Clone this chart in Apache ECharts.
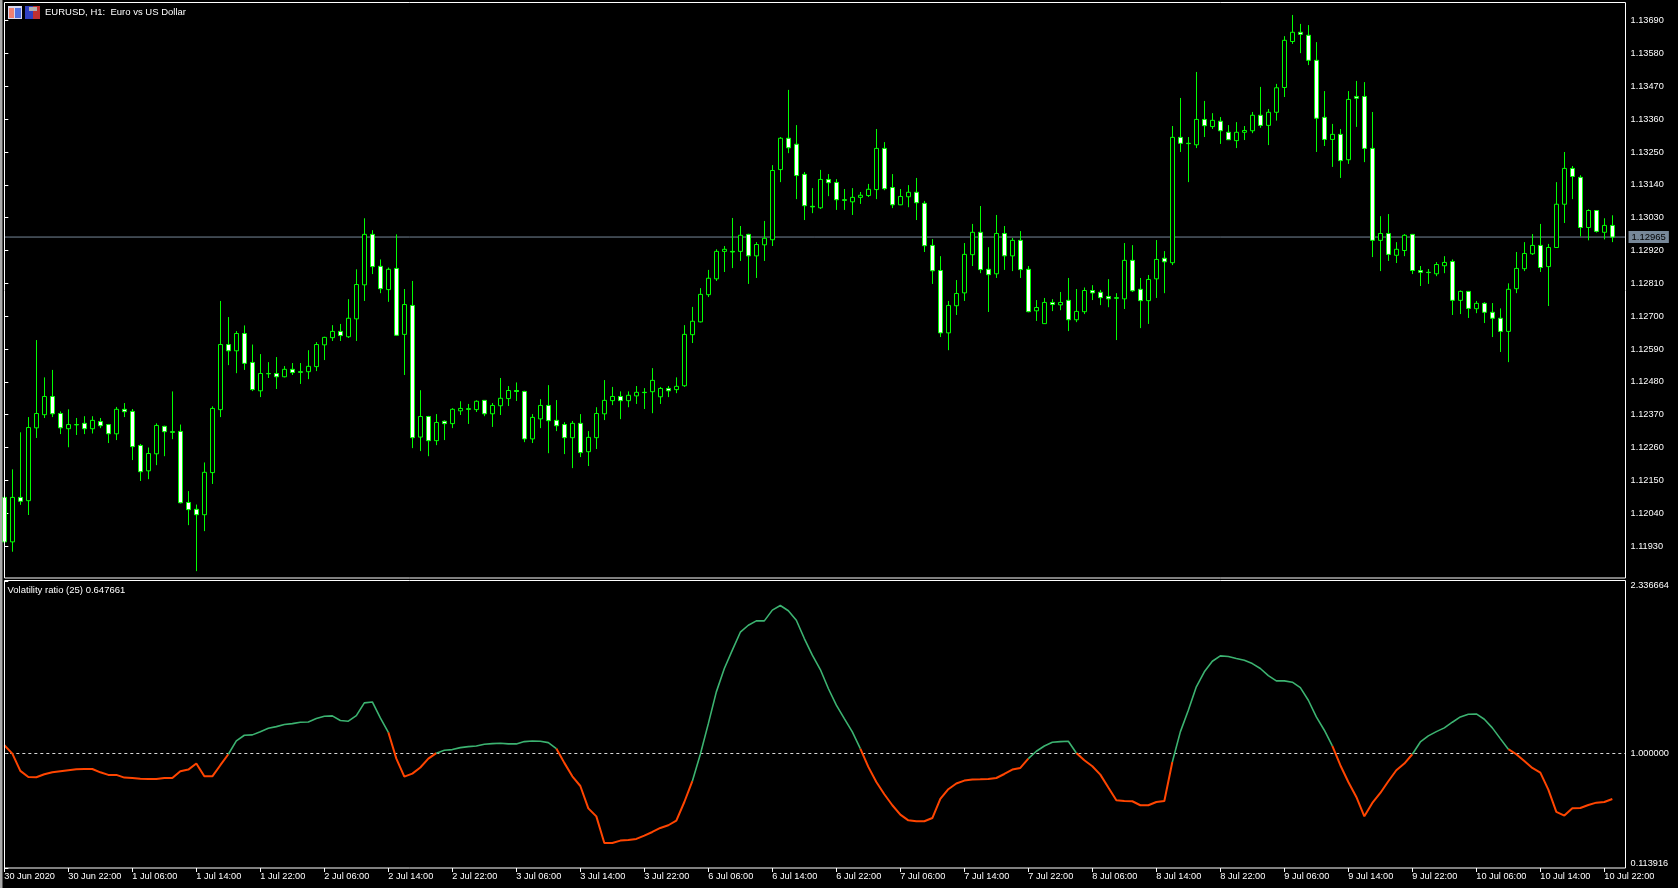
<!DOCTYPE html>
<html><head><meta charset="utf-8">
<style>html,body{margin:0;padding:0;background:#000;overflow:hidden}#c{width:1678px;height:888px}</style>
<script src="https://cdn.jsdelivr.net/npm/echarts@6/dist/echarts.min.js"></script>
</head><body><div id="c"></div>
<script>
// prices in 1e-5 units (112093 = 1.12093)
const opens = [
112093,111944,112093,112082,112326,112370,112431,112374,112323,112337,
112341,112323,112347,112337,112306,112388,112381,112267,112182,112239,
112331,112313,112314,112076,112053,112035,112176,112387,112605,112584,
112642,112545,112450,112508,112508,112497,112522,112514,112514,112531,
112604,112628,112649,112631,112691,112805,112974,112867,112789,112860,
112639,112736,112295,112364,112283,112348,112340,112383,112390,112387,
112418,112373,112400,112424,112451,112448,112289,112356,112401,112351,
112337,112293,112341,112246,112293,112373,112417,112431,112417,112433,
112445,112447,112430,112458,112454,112467,112638,112681,112772,112825,
112917,112917,112917,112974,112902,112939,112956,113191,113296,113276,
113175,113068,113063,113158,113148,113090,113083,113098,113104,113124,
113262,113131,113073,113100,113115,113078,112937,112853,112644,112735,
112778,112906,112981,112857,112842,112977,112902,112954,112857,112718,
112675,112746,112738,112753,112688,112715,112786,112780,112766,112762,
112758,112887,112790,112752,112825,112894,112879,113299,113279,113274,
113359,113335,113353,113316,113288,113316,113321,113373,113339,113383,
113466,113620,113651,113641,113557,113366,113292,113309,113224,113436,
113436,113262,112954,112977,112904,112920,112974,112853,112847,112842,
112869,112883,112753,112783,112725,112743,112713,112693,112649,112792,
112859,112909,112937,112866,112930,113075,113195,113165,112997,113054,
112981,113004];
const closes = [
111944,112093,112080,112327,112374,112431,112373,112326,112337,112336,
112323,112351,112333,112306,112388,112380,112263,112179,112240,112334,
112313,112311,112075,112052,112035,112177,112391,112605,112584,112642,
112542,112454,112508,112507,112497,112522,112511,112512,112532,112605,
112629,112649,112635,112693,112806,112974,112866,112792,112857,112636,
112739,112293,112364,112283,112344,112340,112388,112391,112388,112415,
112373,112401,112425,112451,112448,112289,112361,112401,112350,112333,
112293,112341,112243,112294,112374,112418,112431,112417,112435,112445,
112444,112485,112458,112450,112465,112639,112683,112773,112827,112917,
112924,112915,112971,112902,112940,112961,113188,113296,113264,113171,
113070,113066,113158,113147,113090,113088,113098,113105,113125,113262,
113127,113073,113101,113115,113080,112936,112852,112644,112736,112776,
112907,112981,112856,112839,112977,112902,112954,112856,112715,112729,
112746,112739,112746,112688,112716,112786,112778,112762,112758,112760,
112887,112785,112752,112823,112890,112882,113299,113279,113278,113359,
113338,113356,113321,113291,113316,113322,113373,113339,113383,113465,
113624,113651,113644,113557,113363,113292,113309,113221,113426,113430,
113262,112954,112977,112907,112924,112971,112853,112847,112846,112873,
112880,112753,112783,112726,112743,112713,112693,112649,112790,112860,
112910,112937,112863,112930,113075,113195,113168,112997,113054,112984,
113004,112965];
const lows = [
111923,111911,112068,112034,112292,112359,112362,112305,112261,112302,
112305,112307,112325,112275,112285,112362,112218,112148,112154,112201,
112231,112288,112073,112000,111846,111980,112138,112362,112536,112509,
112520,112449,112429,112493,112456,112495,112503,112473,112489,112516,
112553,112617,112617,112627,112617,112751,112841,112777,112748,112634,
112503,112258,112248,112231,112268,112285,112325,112369,112339,112379,
112365,112329,112369,112399,112416,112278,112275,112325,112241,112315,
112238,112191,112228,112198,112255,112352,112402,112355,112395,112406,
112389,112375,112406,112429,112442,112463,112610,112679,112764,112818,
112848,112861,112885,112808,112828,112885,112935,113149,113246,113092,
113022,113045,113059,113102,113056,113056,113039,113076,113099,113092,
113122,113062,113072,113065,113022,112915,112808,112630,112586,112704,
112751,112868,112844,112714,112828,112855,112851,112828,112713,112684,
112674,112717,112720,112650,112680,112707,112754,112737,112730,112620,
112724,112781,112660,112674,112761,112777,112871,113250,113149,113263,
113300,113327,113277,113290,113263,113290,113313,113331,113273,113355,
113434,113612,113581,113541,113250,113270,113200,113163,113210,113334,
113216,112898,112851,112885,112878,112901,112841,112801,112808,112834,
112844,112704,112707,112694,112710,112677,112630,112580,112546,112777,
112851,112905,112848,112734,112929,113012,113092,112967,112954,112980,
112957,112948];
const highs = [
112100,112187,112311,112362,112620,112495,112520,112381,112388,112359,
112365,112365,112359,112339,112396,112409,112389,112272,112260,112341,
112333,112448,112337,112114,112069,112210,112398,112751,112697,112650,
112669,112605,112573,112546,112563,112533,112543,112543,112586,112613,
112631,112670,112674,112757,112857,113028,112988,112890,112863,112974,
112791,112818,112452,112366,112372,112351,112392,112415,112406,112418,
112419,112409,112493,112466,112478,112450,112372,112422,112469,112419,
112345,112349,112372,112315,112395,112486,112463,112448,112448,112466,
112459,112526,112463,112466,112495,112670,112731,112794,112855,112924,
112935,113029,113002,112976,112948,113019,113206,113300,113458,113340,
113183,113129,113190,113176,113159,113126,113129,113116,113143,113327,
113283,113176,113126,113139,113163,113086,112958,112901,112751,112821,
112945,113009,113069,112931,113039,113002,112962,112985,112868,112754,
112761,112757,112781,112828,112791,112796,112804,112788,112824,112777,
112945,112938,112828,112838,112955,112918,113337,113431,113300,113518,
113421,113380,113367,113340,113350,113337,113384,113468,113394,113478,
113638,113709,113679,113675,113618,113454,113344,113327,113454,113488,
113484,113384,113035,113042,112948,112975,112975,112868,112858,112881,
112901,112890,112786,112784,112751,112747,112744,112726,112810,112915,
112948,112975,113009,112942,113149,113250,113203,113172,113058,113055,
113028,113038];
const lastPrice = 1.12965;
const priceTicks = [1.13690,1.13580,1.13470,1.13360,1.13250,1.13140,1.13030,1.12920,1.12810,1.12700,1.12590,1.12480,1.12370,1.12260,1.12150,1.12040,1.11930];
const volatility = [
1.065,1.000,0.866,0.819,0.817,0.840,0.855,0.863,0.871,0.879,
0.881,0.881,0.855,0.835,0.835,0.814,0.811,0.806,0.804,0.804,
0.811,0.811,0.863,0.876,0.923,0.824,0.824,0.910,0.995,1.098,
1.142,1.145,1.170,1.196,1.209,1.225,1.232,1.243,1.245,1.271,
1.289,1.292,1.256,1.251,1.294,1.393,1.400,1.276,1.165,0.961,
0.822,0.845,0.892,0.961,1.003,1.026,1.031,1.046,1.054,1.059,
1.072,1.077,1.080,1.075,1.075,1.093,1.098,1.096,1.085,1.039,
0.928,0.824,0.749,0.576,0.514,0.308,0.308,0.326,0.331,0.339,
0.365,0.393,0.424,0.445,0.481,0.625,0.786,0.995,1.232,1.478,
1.659,1.801,1.940,1.994,2.028,2.028,2.111,2.147,2.106,2.033,
1.891,1.762,1.651,1.504,1.375,1.271,1.168,1.039,0.897,0.780,
0.685,0.600,0.527,0.483,0.476,0.476,0.501,0.649,0.724,0.768,
0.791,0.799,0.801,0.804,0.811,0.842,0.876,0.889,0.961,1.018,
1.059,1.088,1.093,1.096,1.005,0.948,0.902,0.837,0.737,0.638,
0.633,0.631,0.600,0.600,0.625,0.633,0.935,1.168,1.336,1.517,
1.633,1.715,1.757,1.752,1.736,1.723,1.697,1.659,1.604,1.563,
1.563,1.553,1.511,1.413,1.284,1.181,1.059,0.910,0.780,0.664,
0.514,0.618,0.695,0.786,0.871,0.923,0.995,1.090,1.137,1.170,
1.199,1.243,1.284,1.305,1.307,1.266,1.199,1.116,1.034,0.995,
0.943,0.889,0.853,0.721,0.548,0.520,0.576,0.579,0.602,0.620,
0.625,0.648];
// bar index ranges in which the indicator is coloured green (otherwise red)
const greenRanges = [[28,48],[54,69],[86,107],[128,134],[146,166],[176,188]];
const timeLabels = ['30 Jun 2020','30 Jun 22:00','1 Jul 06:00','1 Jul 14:00','1 Jul 22:00','2 Jul 06:00','2 Jul 14:00','2 Jul 22:00','3 Jul 06:00','3 Jul 14:00','3 Jul 22:00','6 Jul 06:00','6 Jul 14:00','6 Jul 22:00','7 Jul 06:00','7 Jul 14:00','7 Jul 22:00','8 Jul 06:00','8 Jul 14:00','8 Jul 22:00','9 Jul 06:00','9 Jul 14:00','9 Jul 22:00','10 Jul 06:00','10 Jul 14:00','10 Jul 22:00'];
const barsPerLabel = 8;
const FONT = '"Liberation Sans",sans-serif';
const FS = 9.2, FS_TITLE = 9.5;

const candles = opens.map((o,i)=>[i,o/1e5,closes[i]/1e5,lows[i]/1e5,highs[i]/1e5]);
const isGreen = i => greenRanges.some(r=>i>=r[0]&&i<=r[1]);
const redData = [], greenData = [];
volatility.forEach((v,i)=>{
  const g = isGreen(i);
  greenData.push([i, g ? v : null]);
  // red keeps the shared joint points so no gap appears where colours change
  const joint = !g || (i>0 && !isGreen(i-1)) || (i<volatility.length-1 && !isGreen(i+1));
  redData.push([i, joint ? v : null]);
});
const tickValues = timeLabels.map((_,k)=>k*barsPerLabel);
const XMAX = 202.65;
const frame = (x,y,w,h)=>({type:'rect',shape:{x,y,width:w,height:h},style:{fill:null,stroke:'#fff',lineWidth:1},z:50,silent:true});
const box = (x,y,w,h,fill)=>({type:'rect',shape:{x,y,width:w,height:h},style:{fill},z:50,silent:true});

const chart = echarts.init(document.getElementById('c'),null,{renderer:'canvas',width:1678,height:888});
chart.setOption({
  animation:false,
  backgroundColor:'#000',
  textStyle:{fontFamily:FONT},
  title:[
    {text:'EURUSD, H1:  Euro vs US Dollar',left:45,top:7,padding:0,textStyle:{color:'#fff',fontSize:FS_TITLE,fontWeight:'normal',fontFamily:FONT}},
    {text:'Volatility ratio (25) 0.647661',left:7.5,top:585,padding:0,textStyle:{color:'#fff',fontSize:FS_TITLE,fontWeight:'normal',fontFamily:FONT}}
  ],
  grid:[
    {left:4.33,top:3,width:1621.2,height:575,show:false},
    {left:4.33,top:581,width:1621.2,height:287,show:false}
  ],
  xAxis:[
    {type:'value',gridIndex:0,min:0,max:XMAX,show:false,splitLine:{show:false}},
    {type:'value',gridIndex:1,min:0,max:XMAX,splitLine:{show:false},
     axisLine:{show:false},
     axisTick:{show:true,length:4,lineStyle:{color:'#fff'},customValues:tickValues},
     axisLabel:{show:true,color:'#fff',fontSize:FS,fontFamily:FONT,margin:4,align:'left',customValues:tickValues,
       formatter:v=>timeLabels[Math.round(v/barsPerLabel)]||''}}
  ],
  yAxis:[
    {type:'value',gridIndex:0,position:'right',min:1.11823,max:1.13749,splitLine:{show:false},
     axisLine:{show:false},
     axisTick:{show:true,length:4,lineStyle:{color:'#fff'},customValues:priceTicks},
     axisLabel:{show:true,color:'#fff',fontSize:FS,fontFamily:FONT,margin:5,customValues:priceTicks,formatter:v=>v.toFixed(5)}},
    {type:'value',gridIndex:1,position:'right',min:0.113916,max:2.336664,splitLine:{show:false},
     axisLine:{show:false},
     axisTick:{show:true,length:4,lineStyle:{color:'#fff'},customValues:[0.113916,1,2.336664]},
     axisLabel:{show:true,color:'#fff',fontSize:FS,fontFamily:FONT,margin:5,customValues:[0.113916,1,2.336664],
       verticalAlignMaxLabel:'top',verticalAlignMinLabel:'bottom',formatter:v=>v.toFixed(6)}}
  ],
  series:[
    {type:'line',name:'Last price',xAxisIndex:0,yAxisIndex:0,data:[[0,lastPrice],[XMAX,lastPrice]],symbol:'none',showSymbol:false,z:1,clip:false,
     lineStyle:{color:'#778899',width:1},
     endLabel:{show:true,distance:3,formatter:lastPrice.toFixed(5),color:'#000',fontSize:FS_TITLE,fontFamily:FONT,
               backgroundColor:'#778899',padding:[1,3,1,3]}},
    {type:'candlestick',name:'EURUSD',xAxisIndex:0,yAxisIndex:0,data:candles,barWidth:4,z:2,
     itemStyle:{color:'#000',color0:'#fff',borderColor:'#00ff00',borderColor0:'#00ff00',borderWidth:1}},
    {type:'line',name:'Ratio down',xAxisIndex:1,yAxisIndex:1,data:redData,showSymbol:false,symbol:'none',connectNulls:false,z:3,
     lineStyle:{color:'#ff4500',width:2},
     markLine:{silent:true,z:1,symbol:'none',animation:false,label:{show:false},
       lineStyle:{color:'#d8d8d8',width:1,type:[3,3]},data:[{yAxis:1}]}},
    {type:'line',name:'Ratio up',xAxisIndex:1,yAxisIndex:1,data:greenData,showSymbol:false,symbol:'none',connectNulls:false,z:4,
     lineStyle:{color:'#3cb371',width:1.6}}
  ],
  graphic:[
    frame(4.5,2.5,1621,575.5),
    frame(4.5,580.5,1621,287.5),
    box(0,0,2.5,888,'#a8a8a8'),
    // window icons
    box(8,6,14,13,'#d8d8ee'), box(9,8,5,10,'#f08070'), box(15,8,6,10,'#5070e0'),
    box(25,6,15,13,'#3040c0'), box(33,6,7,13,'#c03030'), box(29,7,8,4,'#b0b0b0')
  ]
});
</script></body></html>
